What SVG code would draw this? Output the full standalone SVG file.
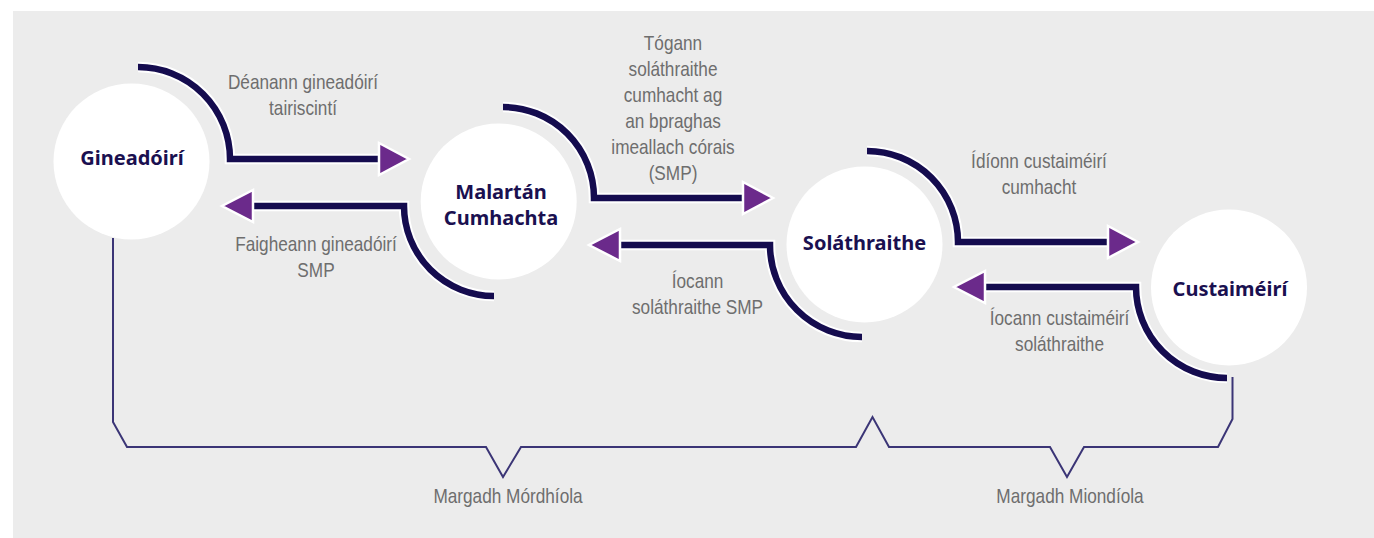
<svg xmlns="http://www.w3.org/2000/svg" width="1374" height="538" viewBox="0 0 1374 538">
  <style>
    .node { fill: #ffffff; }
    .ntext { font-family: "Noto Sans", "Open Sans", sans-serif; font-weight: bold; font-size: 20px; fill: #1a1050; text-anchor: middle; }
    .halo { fill: none; stroke: #ffffff; stroke-width: 10.5; stroke-linecap: butt; stroke-linejoin: miter; }
    .flow { fill: none; stroke: #150c4f; stroke-width: 6.5; stroke-linecap: butt; stroke-linejoin: miter; }
    .arrow { fill: #6b2a8b; stroke: #ffffff; stroke-width: 2.5; stroke-linejoin: miter; }
    .lbl { font-family: "Liberation Sans", Arial, sans-serif; font-size: 21px; fill: #6e6e6e; text-anchor: middle; }
    .bracket { fill: none; stroke: #3b3576; stroke-width: 2; stroke-linejoin: miter; }
  </style>
  <defs>
    <path id="arR" d="M0,-16 L0,16 L30,0 Z"/>
    <path id="arL" d="M0,-16 L0,16 L-31,0 Z"/>
  </defs>

  <rect x="13" y="11" width="1361" height="527" fill="#ececec"/>

  <g id="node-gineadoiri">
    <circle class="node" cx="131.5" cy="161.5" r="78"/>
    <text class="ntext" x="132" y="165">Gineadóirí</text>
  </g>
  <g id="node-malartan">
    <circle class="node" cx="498.7" cy="201.5" r="78"/>
    <text class="ntext" x="501" y="199">Malartán</text>
    <text class="ntext" x="501" y="225">Cumhachta</text>
  </g>
  <g id="node-solathraithe">
    <circle class="node" cx="864.5" cy="244.5" r="78"/>
    <text class="ntext" x="864.5" y="249.5">Soláthraithe</text>
  </g>
  <g id="node-custaimeiri">
    <circle class="node" cx="1229" cy="287.5" r="78"/>
    <text class="ntext" x="1230" y="296">Custaiméirí</text>
  </g>

  <g id="connectors">
    <path class="halo" d="M138,67 A92,92 0 0 1 230,159 H380"/>
    <path class="flow" d="M138,67 A92,92 0 0 1 230,159 H380"/>
    <use href="#arR" class="arrow" x="379" y="159"/>

    <path class="halo" d="M494,296 A90,90 0 0 1 404,206 H252"/>
    <path class="flow" d="M494,296 A90,90 0 0 1 404,206 H252"/>
    <use href="#arL" class="arrow" x="253" y="206"/>

    <path class="halo" d="M503,107 A91,91 0 0 1 594,198 H744"/>
    <path class="flow" d="M503,107 A91,91 0 0 1 594,198 H744"/>
    <use href="#arR" class="arrow" x="743" y="198"/>

    <path class="halo" d="M862,337 A92,92 0 0 1 770,245 H619"/>
    <path class="flow" d="M862,337 A92,92 0 0 1 770,245 H619"/>
    <use href="#arL" class="arrow" x="620" y="245"/>

    <path class="halo" d="M867,151 A91,91 0 0 1 958,242 H1109"/>
    <path class="flow" d="M867,151 A91,91 0 0 1 958,242 H1109"/>
    <use href="#arR" class="arrow" x="1108" y="242"/>

    <path class="halo" d="M1227,378 A91,91 0 0 1 1136,287 H984"/>
    <path class="flow" d="M1227,378 A91,91 0 0 1 1136,287 H984"/>
    <use href="#arL" class="arrow" x="985" y="287"/>
  </g>

  <g id="labels">
    <text class="lbl" transform="translate(303 0) scale(0.82 1)"><tspan x="0" y="89">Déanann gineadóirí</tspan><tspan x="0" y="115">tairiscintí</tspan></text>
    <text class="lbl" transform="translate(316 0) scale(0.82 1)"><tspan x="0" y="251">Faigheann gineadóirí</tspan><tspan x="0" y="277">SMP</tspan></text>
    <text class="lbl" transform="translate(673 0) scale(0.82 1)"><tspan x="0" y="50">Tógann</tspan><tspan x="0" y="76">soláthraithe</tspan><tspan x="0" y="102">cumhacht ag</tspan><tspan x="0" y="128">an bpraghas</tspan><tspan x="0" y="154">imeallach córais</tspan><tspan x="0" y="180">(SMP)</tspan></text>
    <text class="lbl" transform="translate(697.5 0) scale(0.82 1)"><tspan x="0" y="288">Íocann</tspan><tspan x="0" y="314">soláthraithe SMP</tspan></text>
    <text class="lbl" transform="translate(1039 0) scale(0.82 1)"><tspan x="0" y="168">Ídíonn custaiméirí</tspan><tspan x="0" y="194">cumhacht</tspan></text>
    <text class="lbl" transform="translate(1059.5 0) scale(0.82 1)"><tspan x="0" y="325">Íocann custaiméirí</tspan><tspan x="0" y="351">soláthraithe</tspan></text>
  </g>

  <g id="markets">
    <polyline class="bracket" points="113,238 113,422 127,447 486,447 503,477 521,447 856,447 872.5,417 889,447 1050,447 1067,477 1084,447 1218,447 1232.5,419 1232.5,377"/>
    <text class="lbl" transform="translate(508 0) scale(0.82 1)" x="0" y="503">Margadh Mórdhíola</text>
    <text class="lbl" transform="translate(1070 0) scale(0.82 1)" x="0" y="503">Margadh Miondíola</text>
  </g>
</svg>
